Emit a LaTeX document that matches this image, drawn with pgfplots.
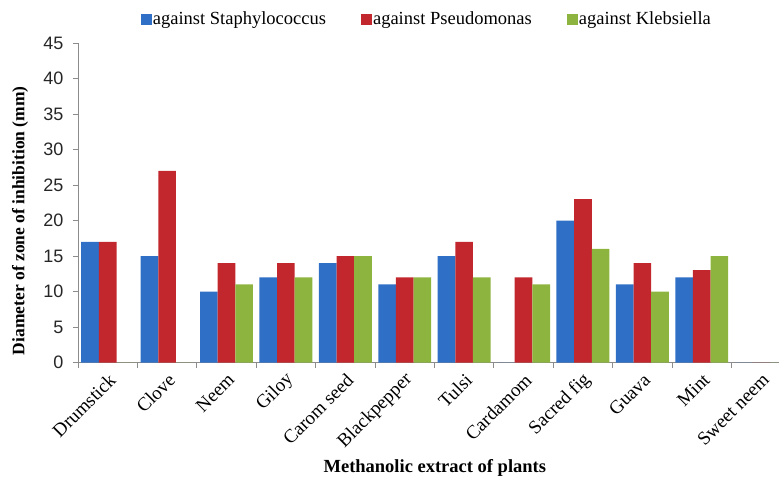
\documentclass[border=0pt]{standalone}
\usepackage{pgfplots}
\pgfplotsset{compat=1.18}
\usepackage{fontspec}
\setmainfont{Liberation Serif}
\newfontfamily\numfont{Liberation Sans}
\definecolor{cblue}{HTML}{2F6FC6}
\definecolor{cred}{HTML}{C1272D}
\definecolor{cgreen}{HTML}{8DB43E}
\definecolor{axgray}{HTML}{8C8C8C}
\begin{document}
\begin{tikzpicture}
\path[use as bounding box] (-78pt,-117pt) rectangle (701pt,362.5pt);
\begin{axis}[
  scale only axis,
  width=701pt, height=319.5pt,
  xmin=0, xmax=11.8,
  ymin=0, ymax=45,
  ybar, bar width=0.297,
  axis x line*=bottom, axis y line*=left,
  axis line style={axgray, line width=0.8pt},
  tick style={axgray, line width=0.8pt},
  tick align=outside,
  ytick={0,5,...,45},
  yticklabel style={font=\numfont\fontsize{18}{18}\selectfont, text=black!85, xshift=-6pt},
  /pgf/number format/assume math mode=true,
  major tick length=5pt,
  xtick={0.5,1.5,...,11.5},
  xticklabels={Drumstick,Clove,Neem,Giloy,Carom seed,Blackpepper,Tulsi,Cardamom,Sacred fig,Guava,Mint,Sweet neem},
  x tick style={draw=none},
  minor xtick={0,1,...,11},
  minor x tick style={axgray, line width=0.8pt, draw=axgray},
  minor tick length=5pt,
  xticklabel style={font=\fontsize{19}{19}\selectfont, rotate=45, anchor=east, xshift=0pt, yshift=-10pt},
  xlabel={\textbf{Methanolic extract of plants}},
  xlabel style={font=\fontsize{18.5}{18.5}\selectfont, at={(axis description cs:0.509,-0.329)}, anchor=center},
  ylabel={\textbf{Diameter of zone of inhibition (mm)}},
  ylabel style={font=\fontsize{17.5}{17.5}\selectfont, at={(axis description cs:-0.0827,0.444)}, anchor=center},
  legend style={at={(axis description cs:0.497,1.075)}, anchor=center, draw=none, fill=none,
    legend columns=3, font=\fontsize{18.5}{18.5}\selectfont,
    /tikz/every even column/.append style={column sep=34pt},
    nodes={inner sep=1pt}},
  legend image code/.code={\fill[#1] (0pt,-5.5pt) rectangle (11pt,5.5pt);},
  clip=false,
]
\addplot[fill=cblue, draw=none, bar shift=-0.297] coordinates {
 (0.5,17) (1.5,15) (2.5,10) (3.5,12) (4.5,14) (5.5,11) (6.5,15) (7.5,0) (8.5,20) (9.5,11) (10.5,12) (11.5,0)};
\addplot[fill=cred, draw=none, bar shift=0] coordinates {
 (0.5,17) (1.5,27) (2.5,14) (3.5,14) (4.5,15) (5.5,12) (6.5,17) (7.5,12) (8.5,23) (9.5,14) (10.5,13) (11.5,0)};
\addplot[fill=cgreen, draw=none, bar shift=0.297] coordinates {
 (0.5,0) (1.5,0) (2.5,11) (3.5,12) (4.5,15) (5.5,12) (6.5,12) (7.5,11) (8.5,16) (9.5,10) (10.5,15) (11.5,0)};
\legend{against Staphylococcus, against Pseudomonas, against Klebsiella}
\end{axis}
\end{tikzpicture}
\end{document}
